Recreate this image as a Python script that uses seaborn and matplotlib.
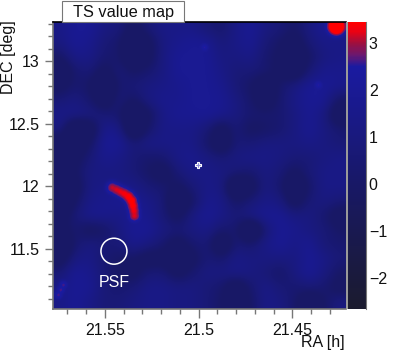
"""TS value map with a PSF marker, drawn with seaborn."""
import matplotlib
matplotlib.use("Agg")
import matplotlib.pyplot as plt
import numpy as np
import pandas as pd
import seaborn as sns
from matplotlib.colors import LinearSegmentedColormap
from matplotlib.patches import Circle, Rectangle

# axis limits
RA_LEFT, RA_RIGHT = 21.578, 21.4216
DEC_TOP, DEC_BOTTOM = 13.316, 11.018
TS_MIN, TS_MAX = -2.66, 3.46

# coarse TS background, rows from top (high DEC) to bottom, columns from left (high RA)
ts_rows = [
    [1.35, 1.9, 1.9, 1.1, 0.85, -0.5, 0.7, 1.35, 1.35, 1.35, 0.7, 0.25, 1.35, 1.9, 1.1, 0.7, 0.0, 1.1, 1.9, 1.35],
    [1.1, 1.9, 1.6, 0.7, 0.25, -1.9, -0.5, 1.1, 1.6, 1.9, 1.8, 0.85, 1.35, 1.8, 0.7, 0.0, -0.8, 0.7, 1.35, 1.35],
    [0.0, 1.35, 1.35, 0.4, 0.25, -1.6, -0.5, 1.1, 1.9, 1.9, 1.9, 1.1, 1.1, 1.35, 0.4, -0.3, -1.6, 0.0, 1.1, 1.35],
    [-1.6, 0.4, 0.7, -0.5, 0.7, 0.0, 0.4, 1.1, 1.9, 1.9, 1.9, 1.35, 0.7, 0.7, 0.4, -0.3, -1.3, 0.7, 1.6, 1.6],
    [-0.5, 0.4, 0.0, -2.2, 0.4, 0.7, 1.1, 1.35, 1.6, 1.9, 1.9, 1.6, 0.7, 0.0, -1.3, 0.25, 1.1, 1.9, 1.9, 1.6],
    [0.7, 1.1, 0.4, -1.0, 0.7, 0.0, 1.1, 1.6, 1.6, 1.9, 1.9, 1.8, 1.1, 0.25, -1.0, 0.4, 1.35, 1.9, 1.8, 0.0],
    [1.35, 1.35, 1.1, 0.7, 0.4, -2.2, -0.3, 1.35, 1.8, 1.8, 1.9, 1.6, 1.1, 0.4, 0.4, 0.4, 1.1, 1.8, 1.1, -1.3],
    [1.1, -2.1, -1.3, 1.6, 1.35, -1.9, 0.25, 1.35, 1.35, 1.35, 0.7, -0.8, 0.7, -0.3, 0.0, 0.4, 1.1, 1.8, 1.1, 0.4],
    [-1.3, -1.6, 0.0, 1.9, 1.9, 0.7, 1.35, 1.35, 1.35, 1.35, 0.25, -1.3, 0.7, 0.7, 1.1, 1.1, 1.1, 1.35, 1.1, 0.7],
    [-1.9, -0.5, 0.7, 1.6, 1.35, 0.7, 0.25, 0.4, 1.35, 1.6, 1.1, 0.7, 1.1, 1.35, 1.35, 1.1, 0.7, 0.7, 1.1, 1.35],
    [-2.4, 0.0, 1.1, 1.1, 1.1, 0.7, 0.0, -0.8, 0.7, 1.35, 1.35, 1.1, 0.7, 0.4, 1.1, 0.7, -0.3, 0.7, 1.35, 1.35],
    [-2.6, -0.8, 1.1, 1.35, 1.35, 1.35, 0.7, 0.4, -0.3, 0.7, 1.35, 1.1, -2.1, -0.8, 1.1, 0.4, -1.9, 0.25, 1.35, 1.35],
    [-2.4, 0.0, 1.35, 1.6, 1.8, 1.8, 1.35, 0.7, -1.9, 0.0, 1.6, 1.35, 0.0, 0.7, 1.35, 1.1, -0.8, 0.7, 1.1, 0.7],
    [-0.8, 0.7, 1.6, 1.6, 1.35, 1.8, 1.6, 0.7, -0.5, 1.1, 1.9, 1.35, 0.7, 1.35, 1.8, 1.8, 1.1, 1.1, 0.4, -0.8],
    [-0.5, 0.4, -0.5, 0.0, 1.1, 1.9, 1.9, 1.1, 0.7, 1.1, 1.35, 0.4, 0.4, -2.6, 0.7, 1.9, 1.6, 1.1, 0.7, 0.0],
    [-2.4, 0.4, 1.1, 0.7, 0.7, 1.6, 1.1, 0.4, -0.8, 0.4, 0.7, -1.6, 0.7, 0.4, 1.35, 1.9, 1.35, 1.8, 0.7, 0.4],
    [-0.8, 1.1, 1.35, 0.4, 0.0, 0.0, -0.8, -0.5, -1.9, -0.5, 0.7, 0.4, 1.35, 1.1, 1.1, 1.1, 1.1, 1.9, 1.35, 0.7],
    [0.7, 1.9, 1.6, 0.7, -0.3, -0.5, 0.7, 0.7, -0.5, 0.4, 1.1, 1.1, 1.35, 1.1, 0.7, 0.0, 1.1, 1.9, 1.1, 0.0],
    [1.35, 1.9, 1.8, 0.7, 0.4, 0.7, 1.35, 1.35, 1.1, 1.1, 0.7, 0.25, -1.3, 0.4, 1.35, 0.7, 0.4, 0.7, 0.4, -0.5],
    [1.35, 1.9, 1.35, 0.7, 0.7, 1.1, 1.35, 1.35, 1.1, 1.1, 0.7, 0.0, -1.3, 0.0, 1.35, 1.1, 0.25, -1.6, 0.0, 1.1],
]

# bright excesses that the coarse grid can not hold
hot_ra = [21.5463, 21.5441, 21.5420, 21.5399, 21.5377, 21.5361, 21.5353, 21.5348, 21.5345,
          21.4267, 21.4363, 21.4971, 21.5724, 21.5738, 21.5751]
hot_dec = [11.986, 11.970, 11.954, 11.938, 11.914, 11.882, 11.842, 11.802, 11.762,
           13.274, 12.805, 13.106, 11.210, 11.170, 11.130]
hot_ts = [3.2, 3.3, 3.35, 3.45, 3.6, 3.65, 3.55, 3.4, 3.3,
          4.6, 2.65, 2.65, 2.75, 2.75, 2.75]
hot_width = [7, 7, 7, 7, 7, 7, 7, 7, 7,
             9, 5, 5, 5, 5, 5]

psf_ra, psf_dec = 21.5452, 11.48
source_ra, source_dec = 21.5003, 12.17

ra_ticks = [21.55, 21.5, 21.45]
dec_ticks = [11.5, 12, 12.5, 13]
ts_ticks = [-2, -1, 0, 1, 2, 3]

sns.set_style("white")
plt.rcParams['font.family'] = ['Liberation Sans', 'DejaVu Sans']

WIDTH, HEIGHT = 407, 356
N_COLS, N_ROWS = 293, 288


def blur(values, size):
    kernel = np.hanning(size)
    kernel /= kernel.sum()
    pad = size // 2
    out = np.pad(values, pad, mode='edge')
    out = np.apply_along_axis(lambda v: np.convolve(v, kernel, mode='same'), 0, out)
    out = np.apply_along_axis(lambda v: np.convolve(v, kernel, mode='same'), 1, out)
    return out[pad:-pad, pad:-pad]


def smooth_map():
    """Resample the coarse grid to about one cell per pixel and add the excesses."""
    grid = np.array(ts_rows, dtype=float)
    rows = (np.arange(N_ROWS) + 0.5) / N_ROWS * grid.shape[0] - 0.5
    cols = (np.arange(N_COLS) + 0.5) / N_COLS * grid.shape[1] - 0.5
    fine = np.array([np.interp(cols, np.arange(grid.shape[1]), r) for r in grid])
    fine = np.array([np.interp(rows, np.arange(grid.shape[0]), c) for c in fine.T]).T
    fine = blur(fine, 25)

    yy, xx = np.mgrid[0:N_ROWS, 0:N_COLS]
    for ra, dec, ts, width in zip(hot_ra, hot_dec, hot_ts, hot_width):
        dist2 = (xx + 0.5 - ra_pos(ra)) ** 2 + (yy + 0.5 - dec_pos(dec)) ** 2
        fine = np.maximum(fine, ts * np.exp(-dist2 / (2 * width ** 2)))
    return blur(fine, 7)


def ra_pos(ra):
    return (RA_LEFT - ra) / (RA_LEFT - RA_RIGHT) * N_COLS


def dec_pos(dec):
    return (DEC_TOP - dec) / (DEC_TOP - DEC_BOTTOM) * N_ROWS


def to_axes(left, top, right, bottom):
    return [left / WIDTH, 1 - bottom / HEIGHT, (right - left) / WIDTH, (bottom - top) / HEIGHT]


def main():
    nodes = [(TS_MIN, '#1b1b2e'), (0.0, '#181866'), (2.5, '#1a1aa0'), (2.75, '#6a1870'),
             (3.0, '#9c1040'), (3.28, '#f00010'), (TS_MAX, '#ff0000')]
    cmap = LinearSegmentedColormap.from_list(
        'ts', [((v - TS_MIN) / (TS_MAX - TS_MIN), c) for v, c in nodes])

    fig = plt.figure(figsize=(WIDTH / 100, HEIGHT / 100), dpi=100, facecolor='white')
    ax = fig.add_axes(to_axes(52.5, 21.5, 345.5, 309))
    cax = fig.add_axes(to_axes(347.5, 21.5, 366, 309))

    frame = pd.DataFrame(smooth_map())
    sns.heatmap(frame, ax=ax, cbar_ax=cax, cmap=cmap, vmin=TS_MIN, vmax=TS_MAX,
                xticklabels=False, yticklabels=False, rasterized=True)

    # RA/DEC ticks sit on the heatmap's cell positions
    grey = '#777777'
    ax.set_xticks([ra_pos(r) for r in ra_ticks])
    ax.set_xticklabels(['21.55', '21.5', '21.45'])
    ax.set_yticks([dec_pos(d) for d in dec_ticks])
    ax.set_yticklabels(['11.5', '12', '12.5', '13'], rotation=0)
    ax.set_xticks([ra_pos(21.57 - 0.01 * i) for i in range(15)], minor=True)
    ax.set_yticks([dec_pos(11.1 + 0.1 * i) for i in range(23)], minor=True)
    ax.tick_params(which='major', length=8.5 * 0.72, width=1, color=grey, labelsize=11.5,
                   bottom=True, left=True, pad=3, labelcolor='#111111')
    ax.tick_params(which='minor', length=5 * 0.72, width=1, color=grey, bottom=True, left=True)
    ax.tick_params(axis='x', which='major', pad=4)

    for side, spine in ax.spines.items():
        spine.set_visible(side != 'right')
        spine.set_linewidth(1.2)
        spine.set_color('black' if side == 'top' else grey)

    cax.set_yticks(ts_ticks)
    cax.set_yticklabels(['\u22122', '\u22121', '0', '1', '2', '3'])
    cax.yaxis.tick_right()
    cax.tick_params(axis='y', direction='in', length=10 * 0.72, width=1, color='#111111',
                    labelsize=11.5, pad=2, labelcolor='#111111')
    cax.tick_params(which='minor', right=False)
    for side, spine in cax.spines.items():
        spine.set_visible(side == 'right')
        spine.set_color(grey)

    # grey strip between map and colour bar
    fig.add_artist(Rectangle((345.5 / WIDTH, 1 - 309 / HEIGHT), 2 / WIDTH, 287.5 / HEIGHT,
                             transform=fig.transFigure, facecolor='#9a9a9a', edgecolor='none'))

    # PSF circle, its label and the small source marker
    ax.add_patch(Circle((ra_pos(psf_ra), dec_pos(psf_dec)), 13, fill=False, edgecolor='white', lw=1.1))
    ax.text(ra_pos(psf_ra), dec_pos(psf_dec) + 31, 'PSF', color='white', fontsize=11.5,
            ha='center', va='center')
    ax.plot(ra_pos(source_ra), dec_pos(source_dec), marker='P', ms=5, mfc='#9090d8',
            mec='white', mew=0.8)

    # title box above the map
    fig.add_artist(Rectangle((61.5 / WIDTH, 1 - 21.5 / HEIGHT), 122.5 / WIDTH, 20.5 / HEIGHT,
                             transform=fig.transFigure, facecolor='white', edgecolor='#777777', lw=0.8))
    fig.text(123.5 / WIDTH, 1 - 12 / HEIGHT, 'TS value map', fontsize=11.8, ha='center', va='center',
             color='#111111')
    fig.text(8.5 / WIDTH, 1 - 20 / HEIGHT, 'DEC [deg]', fontsize=11.5, rotation=90, ha='center',
             va='top', color='#111111')
    fig.text(345 / WIDTH, 1 - 343 / HEIGHT, 'RA [h]', fontsize=11.5, ha='right', va='center',
             color='#111111')

    fig.savefig('out.png', dpi=100, facecolor='white')
    plt.close(fig)


if __name__ == "__main__":
    main()
